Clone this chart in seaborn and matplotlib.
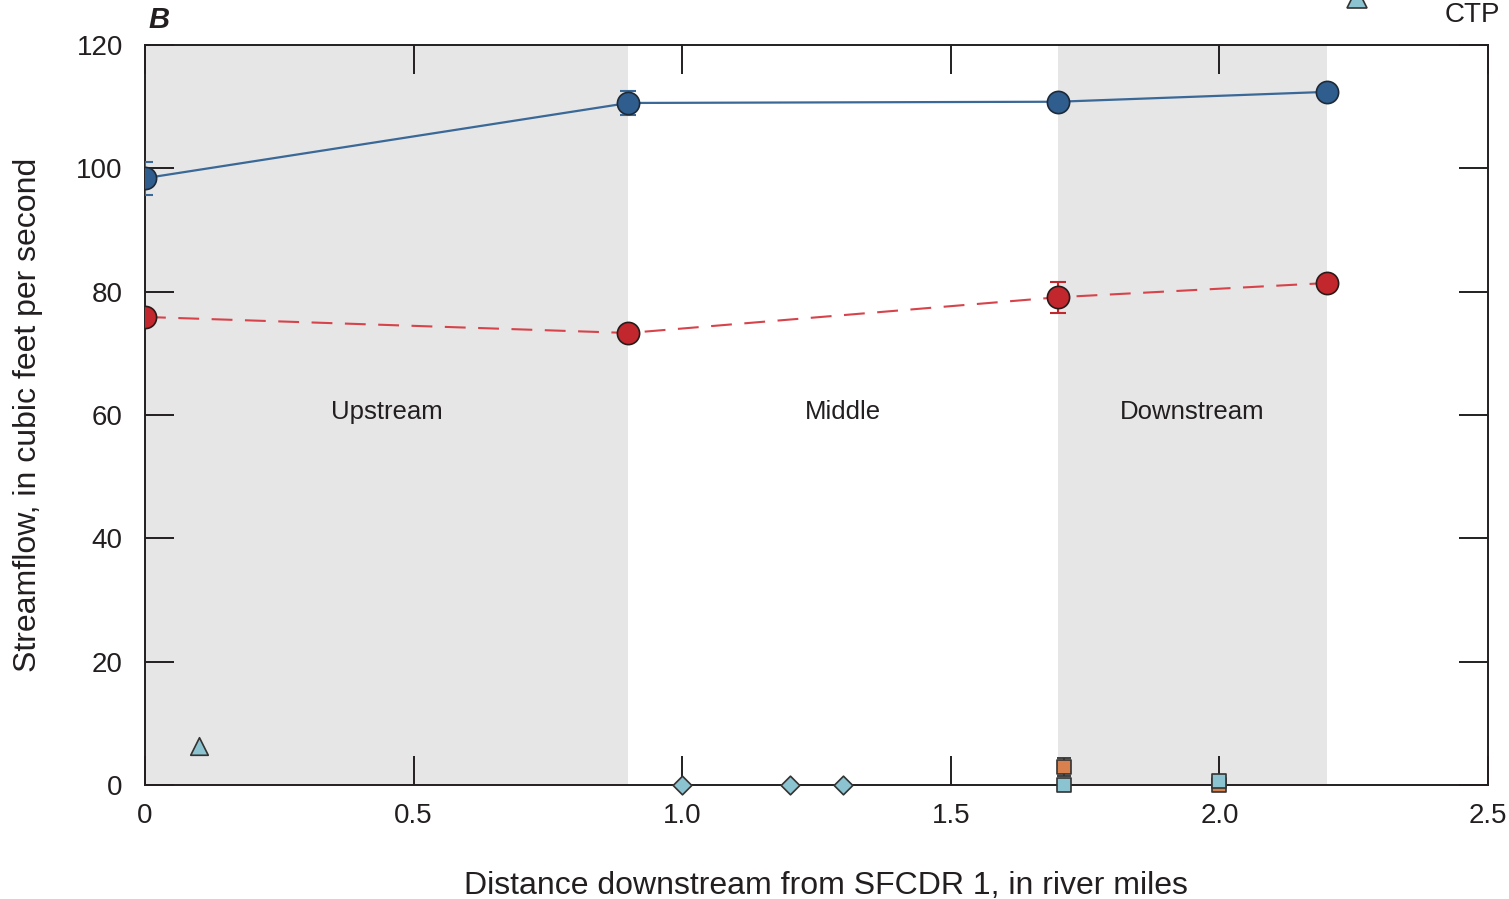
import matplotlib
matplotlib.use("Agg")
import matplotlib.pyplot as plt
from matplotlib.lines import Line2D
import seaborn as sns
import pandas as pd

# Main streamflow series (river miles downstream, cfs)
site_miles = [0.0, 0.9, 1.7, 2.2]
flow_high = [98.4, 110.6, 110.8, 112.4]
flow_high_err = [2.7, 2.0, 0.0, 0.0]
flow_low = [75.9, 73.3, 79.1, 81.4]
flow_low_err = [0.0, 0.0, 2.5, 0.0]

# Tributary / inflow points near zero
ctp_miles = [0.1]
ctp_flow = [6.3]
diamond_miles = [1.0, 1.2, 1.3]
diamond_flow = [0.0, 0.0, 0.0]
sq_orange_miles = [1.71, 2.0]
sq_orange_flow = [2.9, 0.0]
sq_orange_err = [1.5, 0.0]
sq_blue_miles = [1.71, 2.0]
sq_blue_flow = [0.0, 0.6]

reach_spans = [(0.0, 0.9), (1.7, 2.2)]
reach_names = ["Upstream", "Middle", "Downstream"]
reach_label_x = [0.45, 1.3, 1.95]
reach_label_y = 60.5

x_ticks = [0, 0.5, 1.0, 1.5, 2.0, 2.5]
x_tick_labels = ["0", "0.5", "1.0", "1.5", "2.0", "2.5"]
y_ticks = [0, 20, 40, 60, 80, 100, 120]

sns.set_theme(style="white")
plt.rcParams["font.family"] = ["Liberation Sans", "DejaVu Sans"]

ink = "#231f20"
blue = "#2f5d8e"
line_blue = "#3a6897"
red = "#c1272d"
lt_blue = "#8cc3d1"
orange = "#d9804f"

fig = plt.figure(figsize=(15.09, 8.99), dpi=100)
ax = fig.add_axes([145 / 1509, 1 - 785 / 899, (1488 - 145) / 1509, (785 - 45) / 899])

for a, b in reach_spans:
    ax.axvspan(a, b, color="#e6e6e6", lw=0, zorder=0)

df_high = pd.DataFrame({"miles": site_miles, "flow": flow_high})
df_low = pd.DataFrame({"miles": site_miles, "flow": flow_low})

sns.lineplot(data=df_high, x="miles", y="flow", ax=ax, color=line_blue, lw=1.6,
             marker="o", markersize=16, markerfacecolor=blue,
             markeredgecolor="#1d2a38", markeredgewidth=1.2, zorder=4)
sns.lineplot(data=df_low, x="miles", y="flow", ax=ax, color="#d6434a", lw=1.5,
             marker="o", markersize=16, markerfacecolor=red,
             markeredgecolor="#2a1a1a", markeredgewidth=1.2, zorder=4)
ax.lines[-1].set_dashes([10, 6])

ax.errorbar(site_miles, flow_high, yerr=flow_high_err, fmt="none", ecolor=line_blue,
            elinewidth=1.5, capsize=5.5, capthick=1.5, zorder=3)
ax.errorbar(site_miles, flow_low, yerr=flow_low_err, fmt="none", ecolor=red,
            elinewidth=1.5, capsize=5.5, capthick=1.5, zorder=3)

ax.errorbar(sq_orange_miles, sq_orange_flow, yerr=sq_orange_err, fmt="none",
            ecolor="#333333", elinewidth=1.3, capsize=5, capthick=1.3, zorder=5)
sns.scatterplot(x=ctp_miles, y=ctp_flow, ax=ax, marker="^", s=160, color=lt_blue,
                edgecolor="#333333", linewidth=1.2, zorder=6, clip_on=False)
sns.scatterplot(x=diamond_miles, y=diamond_flow, ax=ax, marker="D", s=90, color=lt_blue,
                edgecolor="#333333", linewidth=1.2, zorder=6, clip_on=False)
sns.scatterplot(x=sq_orange_miles, y=sq_orange_flow, ax=ax, marker="s", s=105, color=orange,
                edgecolor="#333333", linewidth=1.2, zorder=6, clip_on=False)
sns.scatterplot(x=sq_blue_miles, y=sq_blue_flow, ax=ax, marker="s", s=105, color=lt_blue,
                edgecolor="#333333", linewidth=1.2, zorder=7, clip_on=False)

for name, lx in zip(reach_names, reach_label_x):
    ax.text(lx, reach_label_y, name, ha="center", va="center", fontsize=18.5, color=ink)

ax.set_xlim(0, 2.5)
ax.set_ylim(0, 120)
ax.set_xticks(x_ticks)
ax.set_xticklabels(x_tick_labels)
ax.set_yticks(y_ticks)
ax.tick_params(axis="both", which="both", direction="in", length=21, width=1.4,
               color=ink, labelsize=20, labelcolor=ink, top=True, right=True,
               bottom=True, left=True)
ax.tick_params(axis="x", pad=13)
ax.tick_params(axis="y", pad=16)
for s in ax.spines.values():
    s.set_visible(True)
    s.set_color(ink)
    s.set_linewidth(1.4)

ax.set_xlabel("Distance downstream from SFCDR 1, in river miles", fontsize=23,
              color=ink, labelpad=30)
ax.xaxis.label.set_x((826 - 145) / 1343)
ax.set_ylabel("Streamflow, in cubic feet per second", fontsize=23, color=ink, labelpad=24)

fig.text(148 / 1509, 1 - 20 / 899, "B", fontsize=21, fontweight="bold", style="italic",
         color=ink, ha="left", va="center")

# Legend entry at the top edge
fig.add_artist(Line2D([1357 / 1509], [1 + 2 / 899], transform=fig.transFigure,
                      marker="^", markersize=14, markerfacecolor=lt_blue,
                      markeredgecolor="#333333", markeredgewidth=1.2, linestyle="none"))
fig.text(1445 / 1509, 1 - 2 / 899, "CTP", fontsize=20, color=ink, ha="left",
         va="top")

fig.savefig("out.png", dpi=100)
